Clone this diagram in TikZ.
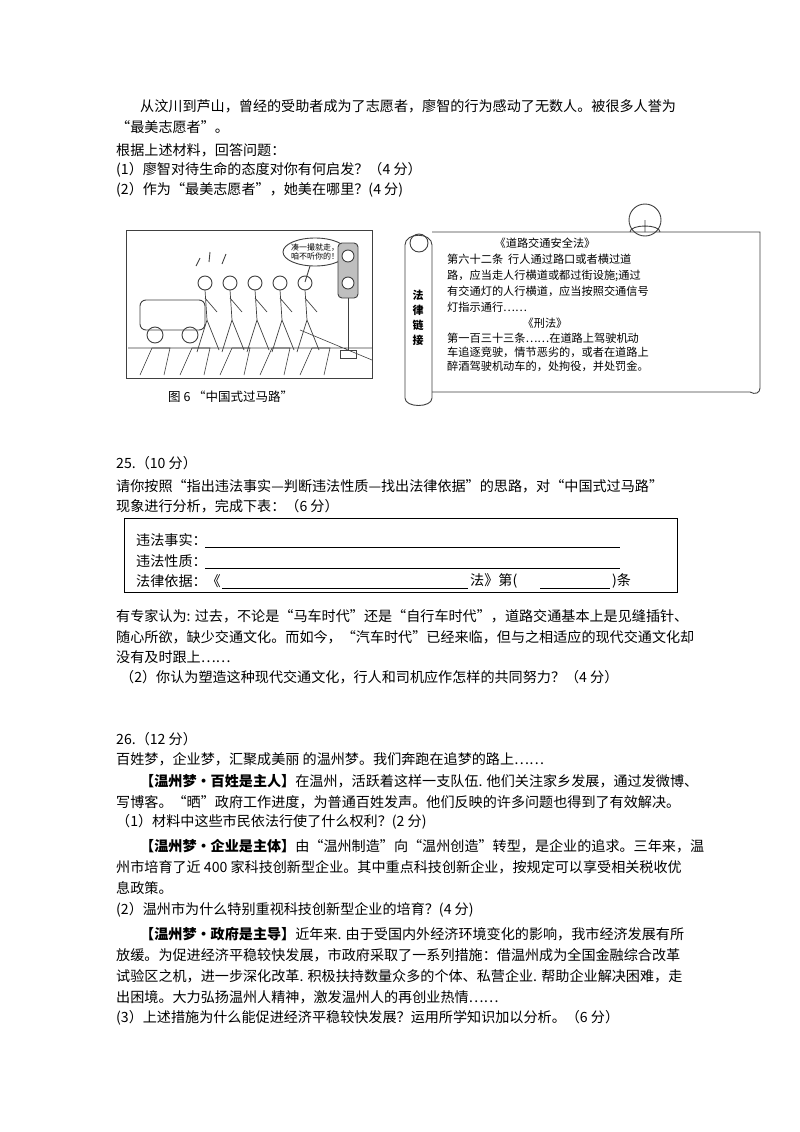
\documentclass[tikz,border=0pt]{standalone}
\usepackage{fontspec}
\setmainfont{Noto Sans CJK SC}
\begin{document}
\begin{tikzpicture}[x=1pt,y=-1pt,
 tx/.style={anchor=west,inner sep=0pt,font=\fontsize{14.1}{14}\selectfont},
 sx/.style={anchor=west,inner sep=0pt,font=\fontsize{11.2}{11}\selectfont},
 ink/.style={draw=black!75,line width=0.9pt}]
\useasboundingbox (0,0) rectangle (800,1132);
\fill[white] (0,0) rectangle (800,1132);
\node[tx] (l1) at (140,106) {从汶川到芦山，曾经的受助者成为了志愿者，廖智的行为感动了无数人。被很多人誉为};
\node[tx] (l2) at (116,127) {“最美志愿者”。};
\node[tx] (l3) at (116,150) {根据上述材料，回答问题：};
\node[tx] (l4) at (116,170) {(1）廖智对待生命的态度对你有何启发？（4 分）};
\node[tx] (l5) at (116,190) {(2）作为“最美志愿者”，她美在哪里？(4 分)};
% cartoon
\draw[ink] (126,230) rectangle (372,378);
\foreach \xx in {140,180,220,260,300}{\draw[ink,line width=0.6pt] (\xx,375) -- (\xx+12,348) -- (\xx+30,348) -- (\xx+24,375);}
\draw[ink,line width=0.6pt] (128,348) -- (372,348) (300,330) -- (372,360);
\draw[ink,rounded corners=6] (140,330) rectangle (205,300);
\draw[ink] (155,335) circle (8) (190,335) circle (8);
\foreach \xx in {205,230,255,280,305}{
 \draw[ink] (\xx,283) circle (7);
 \draw[ink,line width=0.7pt] (\xx,290) -- (\xx+2,320) -- (\xx-8,352) (\xx+2,320) -- (\xx+14,350) (\xx,298) -- (\xx+12,312);}
\draw[ink] (196,266)--(200,258) (209,262)--(210,252) (222,264)--(226,254);
\draw[ink] (315,252) ellipse (32 and 14);
\node[font=\fontsize{8}{9}\selectfont,align=center,inner sep=0pt] (bub) at (315,252) {凑一撮就走，\\咱不听你的！};
\draw[ink] (310,266) -- (305,282);
\draw[ink,rounded corners=4,fill=black!25] (338,243) rectangle (358,298);
\draw[ink,fill=white] (348,256) circle (6) (348,283) circle (6);
\draw[ink] (348,298) -- (348,350) (340,350) rectangle (356,358);
\node[tx,font=\fontsize{12.5}{13}\selectfont] (cap) at (168,397) {图 6 “中国式过马路”};
% scroll
\draw[ink] (432,232) -- (760,232) -- (760,388) .. controls (760,393) and (755,395) .. (750,392) -- (432,392);
\draw[ink] (405,245) .. controls (405,232) and (432,232) .. (432,245) -- (432,398) .. controls (432,408) and (405,408) .. (405,398) -- cycle;
\draw[ink] (419,243) circle (9);
\draw[ink] (645,220) circle (16);
\draw[ink] (645,220) -- (645,232) (630,232) .. controls (630,224) and (660,224) .. (660,232);
\node[font=\fontsize{11}{15}\selectfont\bfseries,align=center,inner sep=0pt] (fl) at (418,318) {法\\律\\链\\接};
\node[sx,anchor=center] (s0) at (545,243) {《道路交通安全法》};
\node[sx] (s1) at (447,259) {第六十二条\ \ 行人通过路口或者横过道};
\node[sx] (s2) at (447,276) {路，应当走人行横道或都过街设施;通过};
\node[sx] (s3) at (447,291) {有交通灯的人行横道，应当按照交通信号};
\node[sx] (s4) at (447,307) {灯指示通行……};
\node[sx,anchor=center] (s5) at (545,323) {《刑法》};
\node[sx] (s6) at (447,338) {第一百三十三条……在道路上驾驶机动};
\node[sx] (s7) at (447,352) {车追逐竞驶，情节恶劣的，或者在道路上};
\node[sx] (s8) at (447,366) {醉酒驾驶机动车的，处拘役，并处罚金。};
% 25
\node[tx] (q25) at (116,463) {25.（10 分）};
\node[tx] (a1) at (116,486) {请你按照“指出违法事实—判断违法性质—找出法律依据”的思路，对“中国式过马路”};
\node[tx] (a2) at (116,506) {现象进行分析，完成下表：（6 分）};
\draw[black,line width=0.8pt] (124,518) rectangle (677,592);
\node[tx] (f1) at (136,540) {违法事实：};
\node[tx] (f2) at (136,561) {违法性质：};
\node[tx] (f3) at (136,581) {法律依据：《};
\draw (205,547) -- (620,547) (205,568) -- (620,568) (222,588) -- (468,588) (540,588) -- (610,588);
\node[tx] (f4) at (470,581) {法》第(};
\node[tx] (f5) at (612,581) {)条};
\node[tx] (b1) at (116,616) {有专家认为: 过去，不论是“马车时代”还是“自行车时代”，道路交通基本上是见缝插针、};
\node[tx] (b2) at (116,637) {随心所欲，缺少交通文化。而如今，“汽车时代”已经来临，但与之相适应的现代交通文化却};
\node[tx] (b3) at (116,657) {没有及时跟上……};
\node[tx] (b4) at (120,677) {（2）你认为塑造这种现代交通文化，行人和司机应作怎样的共同努力？（4 分）};
% 26
\node[tx] (q26) at (116,739) {26.（12 分）};
\node[tx] (c1) at (116,759) {百姓梦，企业梦，汇聚成美丽 的温州梦。我们奔跑在追梦的路上……};
\node[tx] (c2) at (140,781) {\textbf{【温州梦·百姓是主人】}在温州，活跃着这样一支队伍. 他们关注家乡发展，通过发微博、};
\node[tx] (c3) at (116,802) {写博客。“晒”政府工作进度，为普通百姓发声。他们反映的许多问题也得到了有效解决。};
\node[tx] (c4) at (116,822) {（1）材料中这些市民依法行使了什么权利？(2 分)};
\node[tx] (c5) at (140,846) {\textbf{【温州梦·企业是主体】}由“温州制造”向“温州创造”转型，是企业的追求。三年来，温};
\node[tx] (c6) at (116,867) {州市培育了近 400 家科技创新型企业。其中重点科技创新企业，按规定可以享受相关税收优};
\node[tx] (c7) at (116,888) {息政策。};
\node[tx] (c8) at (116,910) {(2）温州市为什么特别重视科技创新型企业的培育？(4 分)};
\node[tx] (c9) at (140,934) {\textbf{【温州梦·政府是主导】}近年来. 由于受国内外经济环境变化的影响，我市经济发展有所};
\node[tx] (c10) at (116,955) {放缓。为促进经济平稳较快发展，市政府采取了一系列措施：借温州成为全国金融综合改革};
\node[tx] (c11) at (116,976) {试验区之机，进一步深化改革. 积极扶持数量众多的个体、私营企业. 帮助企业解决困难，走};
\node[tx] (c12) at (116,997) {出困境。大力弘扬温州人精神，激发温州人的再创业热情……};
\node[tx] (c13) at (116,1018) {(3）上述措施为什么能促进经济平稳较快发展？运用所学知识加以分析。（6 分）};
\end{tikzpicture}
\end{document}
